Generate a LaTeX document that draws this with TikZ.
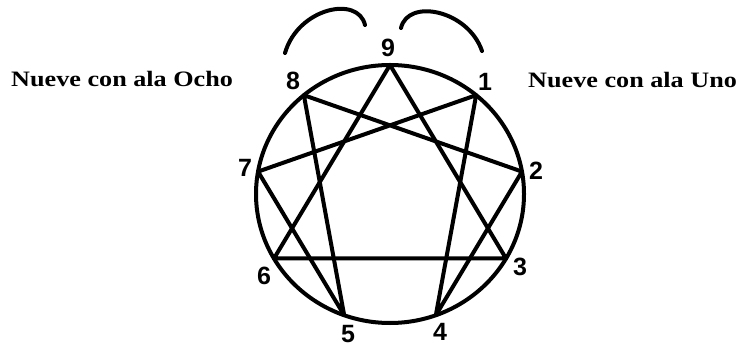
\documentclass[tikz,border=0pt]{standalone}
\usepackage{fontspec}
\setmainfont{Liberation Serif}
\newfontfamily\digitfont{Liberation Sans}
\tikzset{
  ln/.style={line width=4pt, line cap=round, line join=round},
  digit/.style={font=\digitfont\bfseries\fontsize{25}{25}\selectfont, inner sep=0pt},
  caption/.style={font=\bfseries\fontsize{22}{22}\selectfont, inner sep=0pt, anchor=base west},
}
\begin{document}
\begin{tikzpicture}[x=1pt,y=-1pt]
\useasboundingbox (0,0) rectangle (744,347);
\foreach \k in {0,...,8}{
  \coordinate (p\k) at ({390+134*cos(90-40*\k)},{194-129*sin(90-40*\k)});
}
\coordinate (c) at (390,194);
\draw[ln] (c) ellipse [x radius=134, y radius=129];
% triangle 9-3-6
\draw[ln] (p0) -- (p3) -- (p6) -- cycle;
% hexad 1-4-2-8-5-7-1
\draw[ln] (p1) -- (p4) -- (p2) -- (p8) -- (p5) -- (p7) -- cycle;
% arcs
\coordinate (la) at (285,53);
\coordinate (lb) at (365,25);
\coordinate (ra) at (401,28);
\coordinate (rb) at (482,51);
\draw[ln] (la) .. controls (298,8) and (358,-5) .. (lb);
\draw[ln] (ra) .. controls (408,-2) and (468,10) .. (rb);
% digits
\node[digit] (n9) at (388,48) {9};
\node[digit] (n1) at (485,82) {1};
\node[digit] (n2) at (536,171) {2};
\node[digit] (n3) at (520,267) {3};
\node[digit] (n4) at (440,332) {4};
\node[digit] (n5) at (348,334) {5};
\node[digit] (n6) at (264,276) {6};
\node[digit] (n7) at (245,168) {7};
\node[digit] (n8) at (293,81) {8};
% captions
\node[caption] (tl) at (11,87) {\scalebox{1.19}[1]{Nueve con ala Ocho}};
\node[caption] (tr) at (528,88) {\scalebox{1.19}[1]{Nueve con ala Uno}};
\end{tikzpicture}
\end{document}
